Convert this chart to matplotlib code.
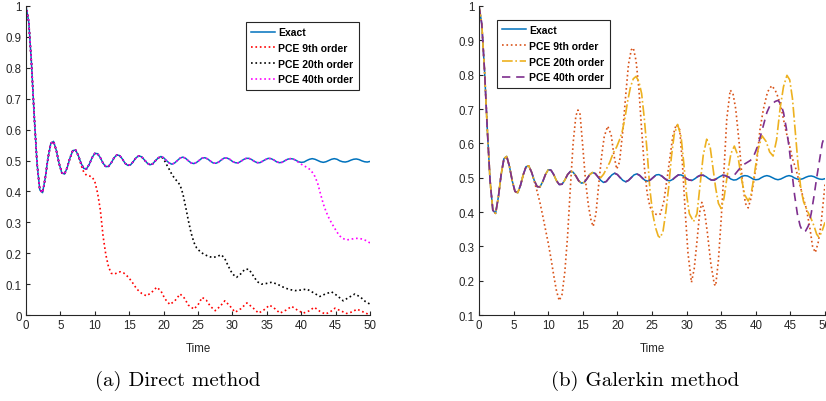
# -*- coding: utf-8 -*-
import numpy as np
import matplotlib.pyplot as plt
from matplotlib.ticker import FuncFormatter

plt.rcParams['font.family'] = ['Liberation Sans', 'DejaVu Sans']

time = np.linspace(0, 50, 126)
exact = np.array([
    1.000, 0.948, 0.812, 0.641, 0.491, 0.405, 0.396, 0.444, 0.509, 0.555,
    0.562, 0.533, 0.491, 0.460, 0.456, 0.478, 0.509, 0.532, 0.534, 0.516,
    0.491, 0.474, 0.473, 0.488, 0.509, 0.523, 0.522, 0.509, 0.491, 0.480,
    0.481, 0.493, 0.509, 0.518, 0.516, 0.505, 0.491, 0.484, 0.486, 0.497,
    0.509, 0.515, 0.512, 0.502, 0.492, 0.486, 0.489, 0.499, 0.508, 0.513,
    0.509, 0.500, 0.492, 0.488, 0.492, 0.500, 0.508, 0.511, 0.507, 0.499,
    0.492, 0.490, 0.494, 0.501, 0.508, 0.509, 0.505, 0.498, 0.492, 0.491,
    0.495, 0.502, 0.508, 0.508, 0.504, 0.497, 0.493, 0.492, 0.497, 0.503,
    0.507, 0.507, 0.503, 0.497, 0.493, 0.493, 0.498, 0.503, 0.507, 0.506,
    0.502, 0.496, 0.493, 0.494, 0.499, 0.504, 0.506, 0.505, 0.501, 0.496,
    0.494, 0.495, 0.500, 0.504, 0.506, 0.504, 0.500, 0.496, 0.494, 0.496,
    0.500, 0.504, 0.506, 0.504, 0.499, 0.496, 0.495, 0.497, 0.501, 0.504,
    0.505, 0.503, 0.499, 0.496, 0.495, 0.497])

# (a) Direct method - tails after each PCE leaves the exact curve
t_d9 = [7.6, 8.0, 8.4, 8.8, 9.2, 9.6, 10.0, 10.4, 10.8, 11.2, 11.6, 12.0, 12.4, 12.8,
        13.2, 13.7, 14.2, 14.9, 15.5, 16.1, 16.8, 17.5, 18.2, 19.0, 19.6, 20.2, 20.9,
        21.6, 22.4, 23.0, 23.6, 24.4, 25.0, 25.6, 26.2, 26.8, 27.5, 28.2, 28.9, 29.6,
        30.4, 31.2, 32.1, 32.9, 33.8, 34.6, 35.4, 36.2, 36.9, 37.8, 38.6, 39.5, 40.3,
        41.1, 41.9, 42.7, 43.5, 44.2, 44.9, 45.8, 46.6, 47.4, 48.1, 48.9, 49.7, 50.0]
v_d9 = [0.516, 0.485, 0.462, 0.452, 0.450, 0.447, 0.432, 0.395, 0.340, 0.255, 0.195,
        0.155, 0.135, 0.132, 0.136, 0.140, 0.136, 0.122, 0.104, 0.084, 0.070, 0.062,
        0.072, 0.090, 0.078, 0.052, 0.034, 0.045, 0.068, 0.055, 0.032, 0.019, 0.033,
        0.057, 0.048, 0.028, 0.014, 0.028, 0.046, 0.030, 0.009, 0.020, 0.039, 0.025,
        0.006, 0.017, 0.032, 0.020, 0.006, 0.016, 0.028, 0.015, 0.006, 0.013, 0.025,
        0.012, 0.003, 0.010, 0.022, 0.013, 0.005, 0.010, 0.019, 0.011, 0.003, 0.004]

t_d20 = [19.6, 20.0, 20.4, 20.8, 21.2, 21.6, 22.0, 22.4, 22.8, 23.2, 23.6, 24.0, 24.4,
         24.8, 25.4, 26.0, 26.6, 27.2, 27.8, 28.4, 28.9, 29.4, 30.0, 30.6, 31.2, 31.8,
         32.4, 33.0, 33.6, 34.2, 34.9, 35.7, 36.5, 37.4, 38.2, 39.1, 40.0, 40.8, 41.7,
         42.7, 43.5, 44.4, 45.2, 46.1, 47.0, 47.8, 48.6, 49.3, 50.0]
v_d20 = [0.513, 0.505, 0.488, 0.472, 0.455, 0.442, 0.432, 0.420, 0.392, 0.350, 0.305,
         0.265, 0.235, 0.217, 0.203, 0.195, 0.189, 0.186, 0.190, 0.195, 0.182, 0.158,
         0.133, 0.122, 0.133, 0.148, 0.148, 0.128, 0.108, 0.100, 0.102, 0.106, 0.100,
         0.090, 0.083, 0.079, 0.081, 0.084, 0.073, 0.060, 0.068, 0.075, 0.063, 0.046,
         0.058, 0.068, 0.058, 0.044, 0.035]

t_d40 = [39.2, 39.6, 40.0, 40.4, 40.8, 41.2, 41.6, 42.0, 42.4, 42.8, 43.2, 43.6, 44.0,
         44.4, 44.8, 45.2, 45.6, 46.0, 46.6, 47.2, 47.8, 48.4, 49.0, 49.5, 50.0]
v_d40 = [0.501, 0.494, 0.488, 0.483, 0.478, 0.472, 0.462, 0.448, 0.425, 0.392, 0.360,
         0.335, 0.315, 0.298, 0.283, 0.268, 0.256, 0.248, 0.243, 0.245, 0.248, 0.248,
         0.245, 0.240, 0.233]

# (b) Galerkin method
t_g9 = [7.6, 8.0, 8.4, 8.8, 9.2, 9.6, 10.0, 10.4, 10.8, 11.2, 11.6, 12.0, 12.4, 12.8,
        13.2, 13.6, 14.0, 14.3, 14.6, 15.0, 15.4, 15.8, 16.2, 16.5, 16.9, 17.3, 17.7,
        18.1, 18.6, 19.1, 19.5, 19.9, 20.3, 20.8, 21.2, 21.6, 22.0, 22.3, 22.7, 23.1,
        23.5, 23.9, 24.3, 24.7, 25.2, 25.7, 26.2, 26.7, 27.2, 27.6, 28.0, 28.5, 29.0,
        29.4, 29.8, 30.2, 30.7, 31.1, 31.5, 31.9, 32.2, 32.6, 33.0, 33.5, 34.0, 34.2,
        34.6, 35.0, 35.4, 35.8, 36.3, 36.7, 37.1, 37.6, 38.1, 38.5, 38.9, 39.3, 39.7,
        40.1, 40.6, 41.1, 41.7, 42.3, 42.8, 43.3, 43.8, 44.3, 44.8, 45.3, 45.8, 46.3,
        46.8, 47.3, 47.8, 48.2, 48.6, 49.0, 49.4, 49.8, 50.0]
v_g9 = [0.516, 0.488, 0.460, 0.428, 0.390, 0.350, 0.310, 0.265, 0.215, 0.170, 0.142,
        0.160, 0.225, 0.330, 0.470, 0.600, 0.680, 0.697, 0.685, 0.590, 0.490, 0.420,
        0.375, 0.358, 0.395, 0.480, 0.560, 0.620, 0.650, 0.625, 0.565, 0.525, 0.545,
        0.640, 0.740, 0.830, 0.872, 0.878, 0.840, 0.760, 0.640, 0.530, 0.455, 0.415,
        0.398, 0.392, 0.394, 0.430, 0.500, 0.560, 0.620, 0.655, 0.640, 0.540, 0.400,
        0.280, 0.195, 0.235, 0.315, 0.400, 0.428, 0.400, 0.340, 0.250, 0.190, 0.185,
        0.260, 0.380, 0.520, 0.670, 0.755, 0.745, 0.700, 0.600, 0.480, 0.425, 0.412,
        0.440, 0.490, 0.540, 0.640, 0.700, 0.750, 0.768, 0.755, 0.730, 0.690, 0.640,
        0.600, 0.555, 0.525, 0.485, 0.445, 0.410, 0.355, 0.300, 0.282, 0.310, 0.360,
        0.440, 0.480]

t_g20 = [17.2, 17.6, 18.0, 18.4, 18.9, 19.4, 19.9, 20.3, 20.7, 21.1, 21.5, 21.9, 22.3,
         22.7, 23.1, 23.5, 23.9, 24.3, 24.7, 25.1, 25.5, 25.9, 26.2, 26.6, 27.0, 27.4,
         27.8, 28.2, 28.7, 29.2, 29.6, 30.0, 30.4, 31.0, 31.5, 31.9, 32.4, 32.9, 33.4,
         33.8, 34.2, 34.6, 35.0, 35.4, 35.9, 36.4, 36.9, 37.4, 37.9, 38.4, 38.9, 39.3,
         39.8, 40.3, 40.9, 41.5, 42.0, 42.5, 43.0, 43.5, 44.0, 44.5, 44.9, 45.3, 45.7,
         46.1, 46.5, 46.9, 47.4, 47.9, 48.4, 48.8, 49.1, 49.5, 50.0]
v_g20 = [0.502, 0.500, 0.510, 0.525, 0.545, 0.572, 0.590, 0.610, 0.635, 0.675, 0.725,
         0.765, 0.788, 0.795, 0.780, 0.745, 0.670, 0.575, 0.465, 0.395, 0.355, 0.330,
         0.325, 0.345, 0.400, 0.470, 0.560, 0.625, 0.655, 0.620, 0.540, 0.450, 0.395,
         0.372, 0.395, 0.470, 0.565, 0.612, 0.590, 0.530, 0.470, 0.425, 0.410, 0.440,
         0.510, 0.570, 0.592, 0.565, 0.500, 0.450, 0.432, 0.450, 0.510, 0.580, 0.622,
         0.605, 0.575, 0.563, 0.610, 0.700, 0.765, 0.798, 0.785, 0.730, 0.635, 0.540,
         0.470, 0.430, 0.405, 0.385, 0.360, 0.335, 0.327, 0.340, 0.370]

t_g40 = [36.0, 36.4, 36.8, 37.2, 37.6, 38.0, 38.4, 38.8, 39.2, 39.6, 40.0, 40.4, 40.8,
         41.2, 41.6, 42.0, 42.4, 42.8, 43.2, 43.6, 44.0, 44.4, 44.8, 45.2, 45.6, 46.0,
         46.4, 46.8, 47.2, 47.6, 48.0, 48.4, 48.8, 49.2, 49.6, 50.0]
v_g40 = [0.502, 0.500, 0.505, 0.515, 0.525, 0.533, 0.540, 0.545, 0.550, 0.558, 0.578,
         0.600, 0.630, 0.660, 0.690, 0.708, 0.715, 0.722, 0.725, 0.715, 0.690, 0.645,
         0.590, 0.520, 0.450, 0.395, 0.360, 0.342, 0.345, 0.360, 0.395, 0.445, 0.500,
         0.550, 0.600, 0.625]

legend_labels = ['Exact', 'PCE 9th order', 'PCE 20th order', 'PCE 40th order']


def f_with_head(t_tail, v_tail):
    # before the split the PCE curve sits on the exact one
    head = time < t_tail[0]
    return np.r_[time[head], t_tail], np.r_[exact[head], v_tail]


def f_style_axes(ax, ylim, yticks):
    ax.set_xlim(0, 50)
    ax.set_ylim(*ylim)
    ax.set_xticks(np.arange(0, 51, 5))
    ax.set_yticks(yticks)
    ax.yaxis.set_major_formatter(FuncFormatter(lambda v, p: '%g' % round(v, 2)))
    for s in ['top', 'right']:
        ax.spines[s].set_visible(False)
    for s in ['left', 'bottom']:
        ax.spines[s].set_color('#262626')
        ax.spines[s].set_linewidth(0.8)
    ax.tick_params(direction='in', length=3, width=0.8, colors='#262626',
                   labelsize=8.3, pad=3)
    ax.set_xlabel('Time', fontsize=8.3, color='#262626', labelpad=8)


def f_legend(ax, anchor):
    leg = ax.legend(legend_labels, loc='upper left', bbox_to_anchor=anchor,
                    prop={'weight': 'bold', 'size': 7.5}, fancybox=False,
                    edgecolor='#262626', framealpha=1, borderpad=0.5,
                    handlelength=2.3, handletextpad=0.3, labelspacing=0.55,
                    borderaxespad=0)
    leg.get_frame().set_linewidth(0.8)


fig = plt.figure(figsize=(8.26, 4.02), dpi=100)
ax_a = fig.add_axes([0.0315, 0.2139, 0.4165, 0.7687])
ax_b = fig.add_axes([0.5799, 0.2139, 0.4189, 0.7687])

# No.1 Direct method
ax_a.plot(time, exact, color='#0072BD', lw=1.1)
ax_a.plot(*f_with_head(t_d9, v_d9), color='red', ls=':', lw=1.2)
ax_a.plot(*f_with_head(t_d20, v_d20), color='black', ls=':', lw=1.2)
ax_a.plot(*f_with_head(t_d40, v_d40), color='magenta', ls=':', lw=1.2)
f_style_axes(ax_a, (0, 1), np.arange(0, 1.01, 0.1))
f_legend(ax_a, (0.6395, 0.948))

# No.2 Galerkin method
ax_b.plot(time, exact, color='#0072BD', lw=1.1)
ax_b.plot(*f_with_head(t_g9, v_g9), color='#D95319', ls=':', lw=1.2)
ax_b.plot(*f_with_head(t_g20, v_g20), color='#EDB120', ls='-.', lw=1.2)
ax_b.plot(*f_with_head(t_g40, v_g40), color='#7E2F8E', ls=(0, (5, 3.5)), lw=1.2)
f_style_axes(ax_b, (0.1, 1), np.arange(0.1, 1.01, 0.1))
f_legend(ax_b, (0.052, 0.955))

# No.3 sub-captions
fig.text(178 / 826, 1 - 381 / 402, '(a) Direct method', ha='center', va='center',
         fontsize=15, family=['cmr10', 'DejaVu Serif'])
fig.text(645 / 826, 1 - 381 / 402, '(b) Galerkin method', ha='center', va='center',
         fontsize=15, family=['cmr10', 'DejaVu Serif'])

fig.savefig('out.png', dpi=100)
